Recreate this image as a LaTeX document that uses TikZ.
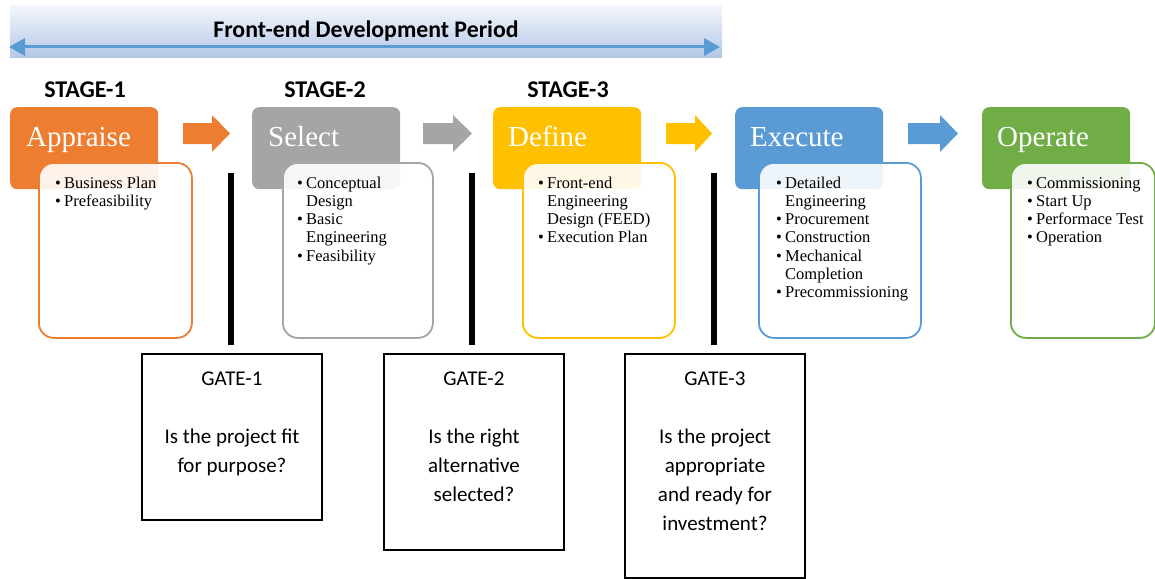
\documentclass[tikz,border=0pt]{standalone}
\usepackage{fontspec}
\setmainfont{Liberation Serif}
\newfontfamily\calfont{Carlito}
\usetikzlibrary{arrows.meta,calc}
\definecolor{cOrange}{HTML}{ED7D31}
\definecolor{cGray}{HTML}{A5A5A5}
\definecolor{cGold}{HTML}{FFC000}
\definecolor{cBlue}{HTML}{5B9BD5}
\definecolor{cGreen}{HTML}{70AD47}
\definecolor{banTop}{RGB}{244,247,252}
\definecolor{banBot}{RGB}{180,199,231}
\newcommand\bu{\makebox[9pt][l]{•}}
\newcommand\ind{\hspace*{9pt}}
\newcommand\blkarrow[4]{\fill[#1] (#2,123) -- (#3,123) -- (#3,115) -- (#4,133.5) -- (#3,152) -- (#3,144) -- (#2,144) -- cycle;}
\begin{document}
\begin{tikzpicture}[x=1pt,y=-1pt,
  titlebox/.style={rounded corners=7pt, minimum width=148pt, minimum height=82pt, anchor=north west, inner sep=0pt},
  ttext/.style={text=white, font=\fontsize{29}{29}\selectfont, anchor=base west, inner sep=0pt},
  cbox/.style={rounded corners=15pt, line width=1.8pt, fill=white, fill opacity=0.9, anchor=north west, minimum height=175pt, inner sep=0pt},
  btext/.style={font=\fontsize{16.5}{18.3}\selectfont, anchor=north west, inner sep=0pt},
  stagelbl/.style={font=\calfont\bfseries\fontsize{24}{24}\selectfont, anchor=base, inner sep=0pt},
  gatebox/.style={draw, line width=1.5pt, minimum width=180pt, anchor=north, inner sep=0pt},
  gtext/.style={font=\calfont\fontsize{21}{29}\selectfont, align=center, anchor=north, inner sep=0pt},
  barnode/.style={fill=black, minimum width=6pt, minimum height=172pt, inner sep=0pt, anchor=north}
]
\useasboundingbox (0,0) rectangle (1155,578);

% banner
\node[anchor=north west, minimum width=712pt, minimum height=52pt, inner sep=0pt,
      top color=banTop, bottom color=banBot] (ban) at (10,5) {};
\node[font=\calfont\bfseries\fontsize{23.8}{24}\selectfont, anchor=base, inner sep=0pt] (bantext) at (366,37.5) {Front-end Development Period};
\coordinate (al) at (9,47);
\coordinate (ar) at (720,47);
\draw[line width=3pt, cBlue, {Triangle[length=16pt,width=17pt]}-{Triangle[length=16pt,width=17pt]}] (al) -- (ar);

% stage labels
\node[stagelbl] (s1) at (85,97) {STAGE-1};
\node[stagelbl] (s2) at (325,97) {STAGE-2};
\node[stagelbl] (s3) at (568,97) {STAGE-3};

% title boxes
\node[titlebox, fill=cOrange] (t1) at (10,107) {};
\node[titlebox, fill=cGray] (t2) at (252,107) {};
\node[titlebox, fill=cGold] (t3) at (493,107) {};
\node[titlebox, fill=cBlue] (t4) at (735,107) {};
\node[titlebox, fill=cGreen] (t5) at (982,107) {};
\node[ttext] (tt1) at ($(t1.north west)+(16,39)$) {Appraise};
\node[ttext] (tt2) at ($(t2.north west)+(16,39)$) {Select};
\node[ttext] (tt3) at ($(t3.north west)+(15,39)$) {Define};
\node[ttext] (tt4) at ($(t4.north west)+(15,39)$) {Execute};
\node[ttext] (tt5) at ($(t5.north west)+(15,39)$) {Operate};

% content boxes
\node[cbox, draw=cOrange, minimum width=153pt] (c1) at (38,162) {};
\node[cbox, draw=cGray, minimum width=150pt] (c2) at (282,162) {};
\node[cbox, draw=cGold, minimum width=152pt] (c3) at (522,162) {};
\node[cbox, draw=cBlue, minimum width=162pt] (c4) at (758,162) {};
\node[cbox, draw=cGreen, minimum width=144pt] (c5) at (1010,162) {};

\node[btext] (l1) at ($(c1.north west)+(17,13)$) {\begin{tabular}{@{}l@{}}\bu Business Plan\\ \bu Prefeasibility\end{tabular}};
\node[btext] (l2) at ($(c2.north west)+(15,13)$) {\begin{tabular}{@{}l@{}}\bu Conceptual\\ \ind Design\\ \bu Basic\\ \ind Engineering\\ \bu Feasibility\end{tabular}};
\node[btext] (l3) at ($(c3.north west)+(16,13)$) {\begin{tabular}{@{}l@{}}\bu Front-end\\ \ind Engineering\\ \ind Design (FEED)\\ \bu Execution Plan\end{tabular}};
\node[btext] (l4) at ($(c4.north west)+(18,13)$) {\begin{tabular}{@{}l@{}}\bu Detailed\\ \ind Engineering\\ \bu Procurement\\ \bu Construction\\ \bu Mechanical\\ \ind Completion\\ \bu Precommissioning\end{tabular}};
\node[btext] (l5) at ($(c5.north west)+(17,13)$) {\begin{tabular}{@{}l@{}}\bu Commissioning\\ \bu Start Up\\ \bu Performace Test\\ \bu Operation\end{tabular}};

% block arrows
\blkarrow{cOrange}{183}{212}{230}
\blkarrow{cGray}{423}{453}{472}
\blkarrow{cGold}{666}{695}{712}
\blkarrow{cBlue}{908}{940}{958}

% gate bars
\node[barnode] (b1) at (231,173) {};
\node[barnode] (b2) at (472,173) {};
\node[barnode] (b3) at (714,173) {};

% gate boxes
\node[gatebox, minimum height=166pt] (g1) at (232,353) {};
\node[gatebox, minimum height=196pt] (g2) at (474,353) {};
\node[gatebox, minimum height=224pt] (g3) at (715,353) {};
\node[gtext] (gt1) at ($(g1.north)+(0,11.7)$) {\strut GATE-1\\[29pt]Is the project fit\\for purpose?};
\node[gtext] (gt2) at ($(g2.north)+(0,11.7)$) {\strut GATE-2\\[29pt]Is the right\\alternative\\selected?};
\node[gtext] (gt3) at ($(g3.north)+(0,11.7)$) {\strut GATE-3\\[29pt]Is the project\\appropriate\\and ready for\\investment?};
\end{tikzpicture}
\end{document}
